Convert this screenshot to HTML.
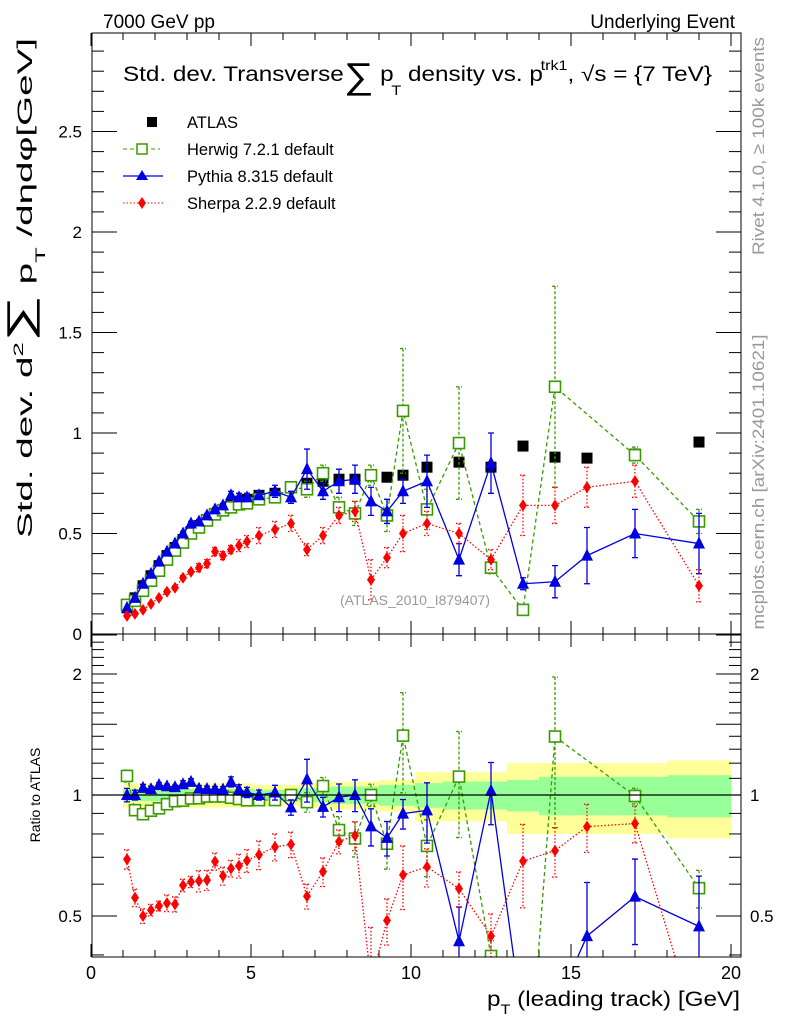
<!DOCTYPE html>
<html><head><meta charset="utf-8"><style>
html,body{margin:0;background:#fff;overflow:hidden;width:786px;height:1024px}
svg{display:block;font-family:"Liberation Sans",Arial,sans-serif}
</style></head><body>
<svg id="c" width="786" height="1024" viewBox="0 0 786 1024" xmlns="http://www.w3.org/2000/svg">
<g id="bands"></g>
<g id="ticks" stroke="#000" stroke-width="1"></g>
<g id="series"></g>
<rect x="92" y="33" width="649" height="601" fill="none" stroke="#000" stroke-width="1"/>
<rect x="92" y="634" width="649" height="323" fill="none" stroke="#000" stroke-width="1"/>
<line x1="92" y1="795" x2="741" y2="795" stroke="#000" stroke-width="1.2"/>
<text x="103" y="28" font-size="19">7000 GeV pp</text>
<text x="735" y="28" font-size="19" text-anchor="end">Underlying Event</text>
<text x="123" y="81" font-size="21" textLength="589" lengthAdjust="spacingAndGlyphs">Std. dev. Transverse<tspan font-size="36" dy="7">∑</tspan><tspan dy="-7"> p</tspan><tspan font-size="14" dx="-2" dy="14">T</tspan><tspan dy="-14">  density vs. p</tspan><tspan font-size="14" dx="-2" dy="-11">trk1</tspan><tspan dy="11">, √s = {7 TeV}</tspan></text>
<g id="legend" font-size="16.5">
<g><rect x="147" y="117" width="10" height="10" fill="#000"/><text x="187" y="128">ATLAS</text></g>
<g><line x1="123" y1="149" x2="160" y2="149" stroke="#3a9a00" stroke-dasharray="4,3"/><rect x="137" y="144" width="10" height="10" fill="#fff" stroke="#3a9a00" stroke-width="1.5"/><text x="187" y="155">Herwig 7.2.1 default</text></g>
<g><line x1="123" y1="176" x2="163" y2="176" stroke="#0000e0" stroke-width="1.3"/><polygon points="142,170 148,180 136,180" fill="#0000e0"/><text x="187" y="182">Pythia 8.315 default</text></g>
<g><line x1="123" y1="203" x2="163" y2="203" stroke="#ff0000" stroke-dasharray="1.5,2"/><polygon points="142,197 146,203 142,209 138,203" fill="#ff0000"/><text x="187" y="209">Sherpa 2.2.9 default</text></g>
</g>
<text transform="translate(32,288) rotate(-90)" font-size="21" text-anchor="middle" textLength="500" lengthAdjust="spacingAndGlyphs">Std. dev. d<tspan font-size="14" dy="-9">2</tspan><tspan dy="9" font-size="36">∑</tspan><tspan> p</tspan><tspan font-size="14" dy="13">T</tspan><tspan dy="-13"> /dηdφ[GeV]</tspan></text>
<text transform="translate(40,795) rotate(-90)" font-size="14" text-anchor="middle">Ratio to ATLAS</text>
<text transform="translate(764,146) rotate(-90)" font-size="17" fill="#999" text-anchor="middle" textLength="218" lengthAdjust="spacingAndGlyphs">Rivet 4.1.0, ≥ 100k events</text>
<text transform="translate(764,482) rotate(-90)" font-size="17" fill="#999" text-anchor="middle" textLength="295" lengthAdjust="spacingAndGlyphs">mcplots.cern.ch [arXiv:2401.10621]</text>
<text x="415" y="605" font-size="14" fill="#999" text-anchor="middle">(ATLAS_2010_I879407)</text>
<text x="487" y="1006" font-size="21" textLength="253" lengthAdjust="spacingAndGlyphs">p<tspan font-size="14" dy="8">T</tspan><tspan dy="-8"> (leading track) [GeV]</tspan></text>
<g id="labels" font-size="17"></g>
</svg>
<script>
const xVals=[1.125,1.375,1.625,1.875,2.125,2.375,2.625,2.875,3.125,3.375,3.625,3.875,4.125,4.375,4.625,4.875,5.25,5.75,6.25,6.75,7.25,7.75,8.25,8.75,9.25,9.75,10.5,11.5,12.5,13.5,14.5,15.5,17,19];
const atlas=[0.13,0.18,0.24,0.29,0.34,0.39,0.43,0.47,0.51,0.54,0.57,0.60,0.62,0.64,0.66,0.67,0.69,0.70,0.73,0.75,0.76,0.77,0.77,0.79,0.78,0.79,0.83,0.855,0.83,0.935,0.88,0.875,0.895,0.955];
const atlasTot=[0.07,0.07,0.07,0.07,0.07,0.07,0.07,0.07,0.07,0.07,0.07,0.07,0.07,0.07,0.07,0.07,0.06,0.06,0.06,0.07,0.07,0.08,0.08,0.08,0.09,0.09,0.14,0.14,0.14,0.2,0.2,0.2,0.2,0.22];
const atlasStat=[0.035,0.035,0.035,0.035,0.035,0.035,0.035,0.035,0.035,0.035,0.035,0.035,0.035,0.035,0.035,0.035,0.03,0.03,0.03,0.04,0.04,0.05,0.05,0.05,0.06,0.06,0.07,0.08,0.08,0.09,0.11,0.11,0.11,0.12];
const herwig=[0.145,0.165,0.215,0.265,0.315,0.37,0.415,0.455,0.50,0.53,0.565,0.595,0.615,0.63,0.645,0.65,0.67,0.68,0.73,0.72,0.80,0.63,0.60,0.79,0.59,1.11,0.62,0.95,0.33,0.12,1.23,null,0.89,0.56];
const herwigErr=[0.005,0.005,0.005,0.005,0.005,0.005,0.005,0.005,0.005,0.005,0.005,0.01,0.01,0.01,0.01,0.01,0.02,0.02,0.02,0.04,0.04,0.05,0.06,0.05,0.08,0.31,0.1,0.28,0.03,0.02,0.5,null,0.04,0.06];
const pythia=[0.13,0.18,0.25,0.30,0.36,0.41,0.45,0.50,0.55,0.56,0.59,0.62,0.64,0.69,0.68,0.68,0.69,0.71,0.68,0.82,0.71,0.76,0.77,0.66,0.61,0.71,0.76,0.37,0.85,0.25,0.26,0.39,0.50,0.45];
const pythiaErr=[0.005,0.005,0.005,0.005,0.005,0.005,0.005,0.01,0.01,0.01,0.01,0.01,0.01,0.02,0.02,0.02,0.02,0.03,0.03,0.1,0.04,0.06,0.07,0.07,0.06,0.06,0.13,0.08,0.15,0.03,0.08,0.14,0.12,0.15];
const sherpa=[0.09,0.10,0.12,0.15,0.18,0.21,0.23,0.28,0.31,0.33,0.35,0.41,0.39,0.42,0.44,0.46,0.49,0.52,0.55,0.42,0.49,0.59,0.61,0.27,0.38,0.50,0.55,0.50,0.37,0.64,0.64,0.73,0.76,0.24];
const sherpaErr=[0.005,0.005,0.005,0.005,0.005,0.01,0.01,0.01,0.01,0.02,0.02,0.02,0.02,0.02,0.03,0.03,0.04,0.04,0.04,0.03,0.04,0.04,0.05,0.1,0.05,0.09,0.06,0.05,0.05,0.15,0.09,0.1,0.08,0.08];
const xTicks=[0,5,10,15,20];
const yTicks=[0,0.5,1,1.5,2,2.5];
const rTicks=[0.5,1,2];

const NS="http://www.w3.org/2000/svg";
const X=v=>91+32*v;
const Y=v=>634-201*v;
const R=r=>795-121*Math.log2(r);
function el(t,a,p){const e=document.createElementNS(NS,t);for(const k in a)e.setAttribute(k,a[k]);p.appendChild(e);return e;}
const tk=document.getElementById('ticks'),lb=document.getElementById('labels'),sr=document.getElementById('series'),bd=document.getElementById('bands');
for(let v=0;v<=20;v++){const L=v%5===0?13:7;const x=X(v);
 [[33,33+L],[634-L,634],[634,634+L],[957-L,957]].forEach(s=>{const t=el('line',{x1:x,x2:x,y1:s[0],y2:s[1]},tk);});}
xTicks.forEach(v=>{const t=el('text',{x:X(v),y:979,'text-anchor':'middle','font-size':18},lb);t.textContent=v;
});
for(let i=0;i<=29;i++){const v=i/10,y=Y(v);if(y<33)continue;const L=i%5===0?25:12;
 const a=el('line',{x1:92,x2:92+L,y1:y,y2:y},tk);
 const b=el('line',{x1:741-L,x2:741,y1:y,y2:y},tk);}
yTicks.forEach(v=>{const t=el('text',{x:82,y:Y(v)+6,'text-anchor':'end'},lb);t.textContent=v;
});
for(let i=4;i<=25;i++){const r=i/10,y=R(r);if(y<634||y>957)continue;const L=(i%5===0)?25:12;
 const a=el('line',{x1:92,x2:92+L,y1:y,y2:y},tk);
 const b=el('line',{x1:741-L,x2:741,y1:y,y2:y},tk);}
rTicks.forEach(v=>{[[82,'end'],[750,'start']].forEach(p=>{const t=el('text',{x:p[0],y:R(v)+6,'text-anchor':p[1]},lb);t.textContent=v;
});});
function edges(i){const lo=i===0?1.0:(xVals[i-1]+xVals[i])/2;const hi=i===xVals.length-1?20:(xVals[i]+xVals[i+1])/2;return[lo,hi];}
[[atlasTot,'#ffff99'],[atlasStat,'#99ff99']].forEach(([arr,col])=>{
 xVals.forEach((x,i)=>{const[lo,hi]=edges(i);const y1=R(1+arr[i]),y2=R(1-arr[i]);
 const r=el('rect',{x:X(lo),y:y1,width:X(hi)-X(lo)+0.5,height:y2-y1,fill:col},bd);
 });});
const defs=el('defs',{},document.getElementById('c'));
const c1=el('clipPath',{id:'cm'},defs);el('rect',{x:92,y:33,width:649,height:601},c1);
const c2=el('clipPath',{id:'cr'},defs);el('rect',{x:92,y:634,width:649,height:323},c2);
function marker(g,kind,x,y,col){
 if(kind==='sq'){const m=el('rect',{x:x-5.5,y:y-5.5,width:11,height:11,fill:'#fff',stroke:col,'stroke-width':1.6},g);}
 else if(kind==='tri'){const m=el('polygon',{points:`${x},${y-7} ${x+6},${y+5} ${x-6},${y+5}`,fill:col},g);}
 else if(kind==='dia'){const m=el('polygon',{points:`${x},${y-6} ${x+4},${y} ${x},${y+6} ${x-4},${y}`,fill:col},g);}
 else {const m=el('rect',{x:x-5.5,y:y-5.5,width:11,height:11,fill:col},g);}
}
function draw(vals,errs,kind,col,dash,ratio,name){
 const g=el('g',{'clip-path':ratio?'url(#cr)':'url(#cm)'},sr);
 
 const pts=[];
 vals.forEach((v,i)=>{if(v==null)return;const x=X(xVals[i]);
  let y,yt,yb;
  if(ratio){const d=atlas[i];y=R(v/d);yt=R(Math.max((v+errs[i])/d,0.01));yb=R(Math.max((v-errs[i])/d,0.01));}
  else{y=Y(v);yt=Y(v+errs[i]);yb=Y(v-errs[i]);}
  pts.push([x,y,yt,yb]);});
 if(kind!=='atlas'){
  const p=el('polyline',{points:pts.map(p=>p[0]+','+p[1]).join(' '),fill:'none',stroke:col,'stroke-width':1.3},g);
  if(dash)p.setAttribute('stroke-dasharray',dash);
  
  pts.forEach(p=>{const e=el('path',{d:`M${p[0]},${p[2]}V${p[3]}M${p[0]-3},${p[2]}h6M${p[0]-3},${p[3]}h6`,stroke:col,'stroke-width':1.3,fill:'none'},g);
   if(dash)e.setAttribute('stroke-dasharray',dash==='4,3'?'3,2':'1.5,2');
   });
 }
 pts.forEach(p=>marker(g,kind,p[0],p[1],col));
}
draw(atlas,atlas.map(()=>0),'atlas','#000',null,false,'atlas-series');
draw(herwig,herwigErr,'sq','#3a9a00','4,3',false,'herwig-series');
draw(pythia,pythiaErr,'tri','#0000e0',null,false,'pythia-series');
draw(sherpa,sherpaErr,'dia','#ff0000','1.5,2',false,'sherpa-series');
draw(herwig,herwigErr,'sq','#3a9a00','4,3',true,'herwig-ratio');
draw(pythia,pythiaErr,'tri','#0000e0',null,true,'pythia-ratio');
draw(sherpa,sherpaErr,'dia','#ff0000','1.5,2',true,'sherpa-ratio');
</script>
</body></html>
